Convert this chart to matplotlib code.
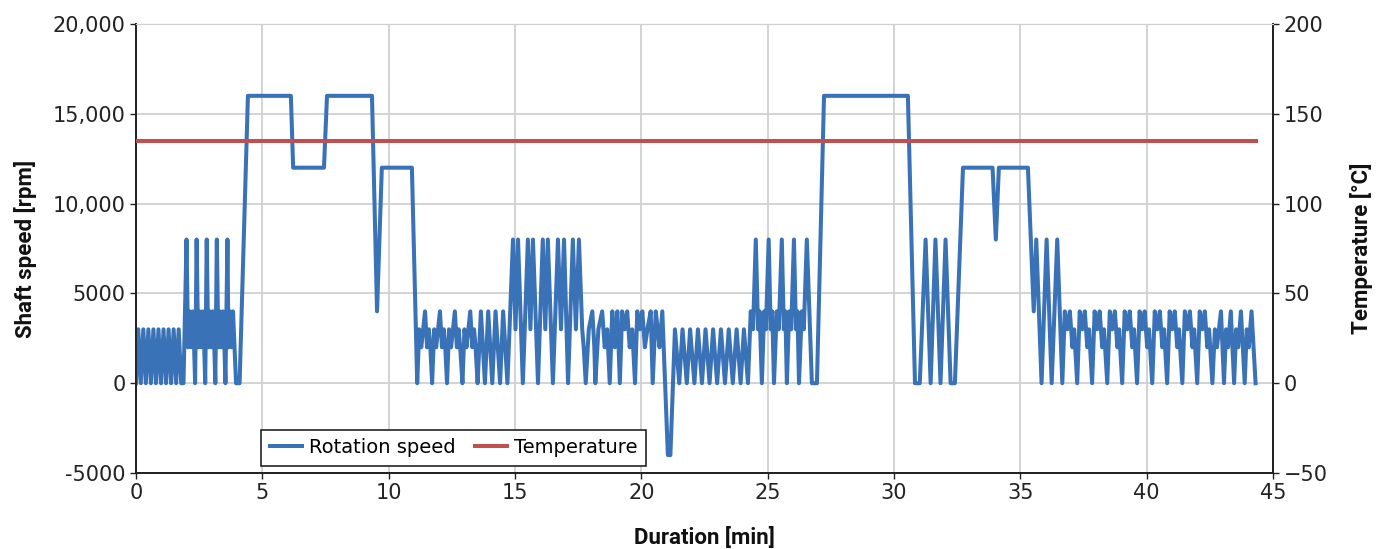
import matplotlib
matplotlib.use("Agg")
import matplotlib.pyplot as plt
from matplotlib.ticker import FuncFormatter

BLUE = "#3a72b8"
RED = "#c0504d"
GRID = "#d0d0d0"

# ---- rotation speed: (minute, rpm) per section
seg_start = [(0.00, 0), (0.09, 3000), (0.19, 0), (0.29, 3000), (0.39, 0),
             (0.49, 3000), (0.59, 0), (0.69, 3000), (0.79, 0), (0.89, 3000),
             (0.99, 0), (1.09, 3000), (1.19, 0), (1.29, 3000), (1.39, 0),
             (1.49, 3000), (1.59, 0), (1.69, 3000), (1.79, 0), (1.88, 0)]
seg_urban1 = [(2.00, 8000), (2.06, 2000), (2.12, 4000), (2.18, 2000), (2.24, 4000),
              (2.30, 2000), (2.34, 0),
              (2.40, 8000), (2.46, 2000), (2.52, 4000), (2.58, 2000), (2.64, 4000),
              (2.70, 2000), (2.74, 0),
              (2.80, 8000), (2.86, 2000), (2.92, 4000), (2.98, 2000), (3.04, 4000),
              (3.10, 2000), (3.14, 0),
              (3.20, 8000), (3.26, 2000), (3.32, 4000), (3.38, 2000), (3.44, 4000),
              (3.50, 2000), (3.54, 0),
              (3.62, 8000), (3.66, 2000), (3.72, 4000), (3.78, 2000), (3.84, 4000),
              (3.96, 0), (4.10, 0)]
seg_high1 = [(4.43, 16000), (6.13, 16000), (6.22, 12000), (7.44, 12000),
             (7.56, 16000), (9.34, 16000), (9.54, 4000), (9.73, 12000),
             (10.92, 12000)]
seg_urban2 = [(11.13, 0), (11.21, 3000), (11.29, 2000), (11.44, 4000), (11.52, 2000),
              (11.59, 3000), (11.65, 2000),
              (11.72, 0), (11.80, 3000), (11.88, 2000), (12.03, 4000), (12.11, 2000),
              (12.18, 3000), (12.24, 2000),
              (12.31, 0), (12.39, 3000), (12.47, 2000), (12.62, 4000), (12.70, 2000),
              (12.77, 3000), (12.83, 2000),
              (12.92, 0), (13.00, 3000), (13.08, 2000), (13.23, 4000), (13.31, 2000),
              (13.38, 3000), (13.44, 2000),
              (13.52, 0), (13.65, 4000), (13.81, 0), (13.94, 4000), (14.10, 0),
              (14.23, 4000), (14.41, 0), (14.53, 4000), (14.70, 0)]
seg_pairs1 = [(14.92, 8000), (15.02, 3000), (15.12, 8000), (15.31, 0),
              (15.51, 8000), (15.61, 3000), (15.71, 8000), (15.91, 0),
              (16.10, 8000), (16.20, 3000), (16.30, 8000), (16.50, 0),
              (16.70, 8000), (16.82, 3000), (16.94, 8000), (17.10, 0),
              (17.29, 8000), (17.41, 3000), (17.53, 8000)]
seg_urban3 = [(17.66, 3000), (17.72, 2000), (17.80, 0), (17.92, 3000), (18.06, 4000),
              (18.14, 2000), (18.18, 0), (18.30, 3000), (18.45, 4000), (18.55, 2000),
              (18.65, 3000), (18.75, 0), (18.85, 4000), (18.95, 2000), (19.05, 4000),
              (19.15, 0), (19.24, 4000), (19.34, 3000), (19.44, 4000), (19.54, 2000),
              (19.64, 3000), (19.75, 0), (19.84, 4000), (19.94, 3000), (20.04, 4000),
              (20.14, 2000), (20.24, 3000), (20.37, 4000), (20.45, 0), (20.57, 4000),
              (20.65, 3000), (20.72, 2000), (20.83, 4000),
              (21.05, -4000), (21.15, -4000)]
seg_low = [(21.33, 3000), (21.50, 0), (21.63, 3000), (21.80, 0), (21.93, 3000),
           (22.10, 0), (22.24, 3000), (22.40, 0), (22.54, 3000), (22.70, 0),
           (22.84, 3000), (23.00, 0), (23.15, 3000), (23.31, 0), (23.46, 3000),
           (23.62, 0), (23.77, 3000), (23.93, 0), (24.06, 3000), (24.22, 0)]
seg_peaks = [(24.33, 4000), (24.42, 3000), (24.53, 8000), (24.62, 3000), (24.68, 4000),
             (24.77, 0), (24.86, 4000), (24.93, 3000), (25.04, 8000), (25.12, 3000),
             (25.18, 4000), (25.25, 0), (25.36, 4000), (25.44, 3000), (25.56, 8000),
             (25.64, 3000), (25.70, 4000), (25.76, 0), (25.85, 4000), (25.93, 3000),
             (26.04, 8000), (26.12, 3000), (26.18, 4000), (26.24, 0), (26.35, 4000),
             (26.43, 3000), (26.55, 8000), (26.75, 0), (26.95, 0)]
seg_high2 = [(27.23, 16000), (30.55, 16000), (30.83, 0), (31.02, 0),
             (31.25, 8000), (31.45, 0), (31.64, 8000), (31.84, 0), (32.04, 8000),
             (32.24, 0), (32.41, 0), (32.73, 12000), (33.90, 12000), (34.03, 8000),
             (34.15, 12000), (35.30, 12000), (35.53, 4000), (35.63, 8000), (35.84, 0),
             (36.04, 8000), (36.24, 0), (36.46, 8000)]
seg_urban4 = [(36.66, 0), (36.76, 4000), (36.86, 3000), (36.96, 4000), (37.06, 2000), (37.13, 3000),
              (37.25, 0), (37.35, 4000), (37.45, 3000), (37.55, 4000), (37.65, 2000), (37.72, 3000),
              (37.84, 0), (37.94, 4000), (38.04, 3000), (38.14, 4000), (38.24, 2000), (38.31, 3000),
              (38.44, 0), (38.54, 4000), (38.64, 3000), (38.74, 4000), (38.84, 2000), (38.91, 3000),
              (39.03, 0), (39.13, 4000), (39.23, 3000), (39.33, 4000), (39.43, 2000), (39.50, 3000),
              (39.62, 0), (39.72, 4000), (39.82, 3000), (39.92, 4000), (40.02, 2000), (40.09, 3000),
              (40.22, 0), (40.32, 4000), (40.42, 3000), (40.52, 4000), (40.62, 2000), (40.69, 3000),
              (40.81, 0), (40.91, 4000), (41.01, 3000), (41.11, 4000), (41.21, 2000), (41.28, 3000),
              (41.41, 0), (41.51, 4000), (41.61, 3000), (41.71, 4000), (41.81, 2000), (41.88, 3000),
              (42.00, 0), (42.10, 4000), (42.20, 3000), (42.30, 4000), (42.40, 2000), (42.47, 3000),
              (42.60, 0)]
seg_end = [(42.70, 3000), (42.78, 2000), (42.94, 4000), (43.06, 0),
           (43.14, 3000), (43.22, 2000), (43.33, 4000), (43.46, 0),
           (43.54, 3000), (43.62, 2000), (43.73, 4000), (43.88, 0),
           (43.96, 3000), (44.04, 2000), (44.15, 4000), (44.31, 0)]

sections = [seg_start, seg_urban1, seg_high1, seg_urban2, seg_pairs1, seg_urban3,
            seg_low, seg_peaks, seg_high2, seg_urban4, seg_end]
speed = [p for s in sections for p in s]
t_speed = [p[0] for p in speed]
rpm = [p[1] for p in speed]

t_temp = [0.0, 44.31]
temp = [135, 135]

fig = plt.figure(figsize=(13.89, 5.49), dpi=100)
ax = fig.add_axes([0.0979, 0.1384, 0.8186, 0.8179])
ax2 = ax.twinx()

ax.plot(t_speed, rpm, color=BLUE, lw=2.9, solid_joinstyle="round", zorder=3,
        label="Rotation speed")
ax2.plot(t_temp, temp, color=RED, lw=2.9, zorder=3, label="Temperature")

ax.set_xlim(0, 45)
ax.set_ylim(-5000, 20000)
ax2.set_ylim(-50, 200)
ax.set_xticks(range(0, 46, 5))
ax.set_yticks(range(-5000, 20001, 5000))
ax2.set_yticks(range(-50, 201, 50))
ax.yaxis.set_major_formatter(FuncFormatter(
    lambda v, _: f"{int(v):,}" if abs(v) >= 10000 else f"{int(v)}"))

ax.grid(True, color=GRID, lw=1.3, zorder=0)
ax.set_axisbelow(True)
for a in (ax, ax2):
    a.spines["top"].set_color(GRID)
    for side in ("left", "right", "bottom"):
        a.spines[side].set_color("#222222")
        a.spines[side].set_linewidth(1.3)
    a.tick_params(labelsize=15, length=4, width=1.0, color="#222222",
                  labelcolor="#222222")

lab_font = dict(family=["Roboto", "DejaVu Sans"],
                weight="bold", size=16, color="#111111")
ax.set_ylabel("Shaft speed [rpm]", labelpad=11, **lab_font)
ax2.set_ylabel("Temperature [°C]", labelpad=16, rotation=90, **lab_font)
ax.set_xlabel("Duration [min]", labelpad=17, **lab_font)

h1, l1 = ax.get_legend_handles_labels()
h2, l2 = ax2.get_legend_handles_labels()
leg = ax2.legend(h1 + h2, l1 + l2, ncol=2, loc="lower left",
                 bbox_to_anchor=(0.11, 0.0156), borderaxespad=0, fontsize=14,
                 frameon=True, fancybox=False, edgecolor="#111111", framealpha=1,
                 handlelength=1.65, handletextpad=0.36, columnspacing=1.0,
                 borderpad=0.45)
leg.get_frame().set_linewidth(1.1)

fig.savefig("out.png", dpi=100)
